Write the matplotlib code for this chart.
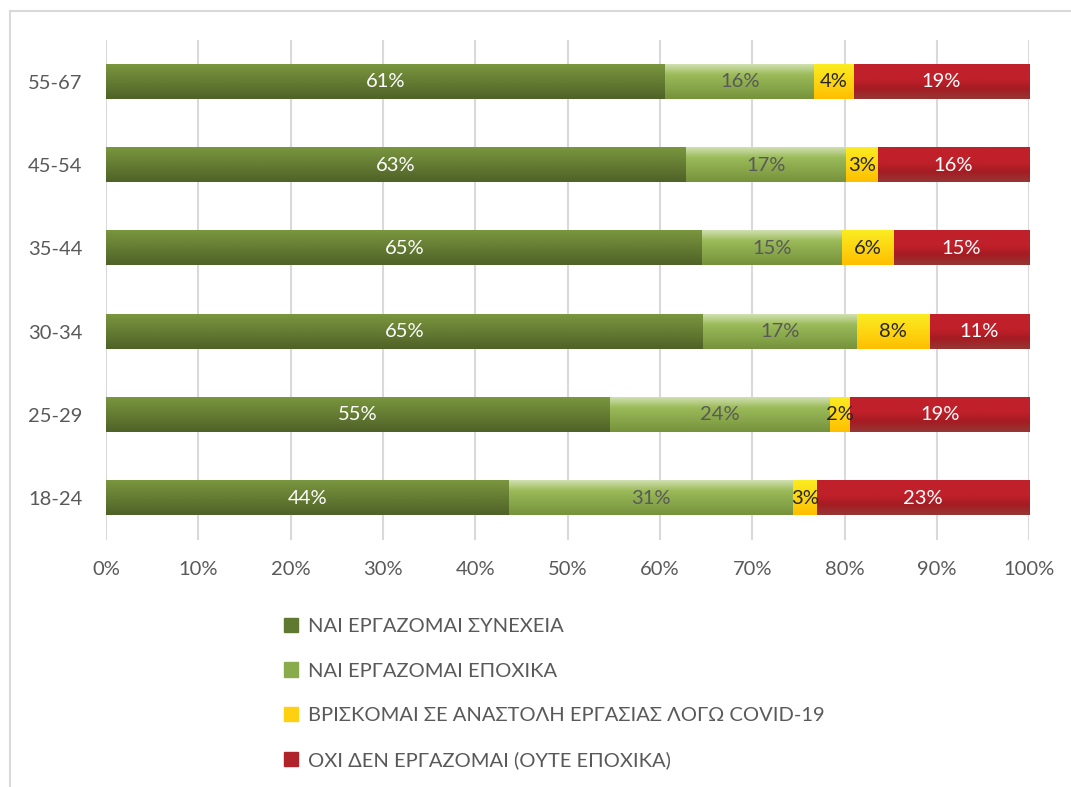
import numpy as np
import matplotlib.pyplot as plt
from matplotlib.colors import LinearSegmentedColormap
from matplotlib.patches import Rectangle
from matplotlib.lines import Line2D

plt.rcParams['font.family'] = ['Lato', 'Noto Sans', 'DejaVu Sans']

# ηλικιακές ομάδες (από κάτω προς τα πάνω)
ages = ['18-24', '25-29', '30-34', '35-44', '45-54', '55-67']
# ποσοστά ανά κατηγορία απάντησης
synexeia = [43.6, 54.6, 64.7, 64.6, 62.8, 60.6]
epoxika = [30.8, 23.8, 16.6, 15.1, 17.4, 16.1]
anastoli = [2.6, 2.2, 7.9, 5.6, 3.4, 4.3]
oxi = [23.0, 19.4, 10.8, 14.7, 16.4, 19.0]

series_names = ['ΝΑΙ ΕΡΓΑΖΟΜΑΙ ΣΥΝΕΧΕΙΑ', 'ΝΑΙ ΕΡΓΑΖΟΜΑΙ ΕΠΟΧΙΚΑ',
                'ΒΡΙΣΚΟΜΑΙ ΣΕ ΑΝΑΣΤΟΛΗ ΕΡΓΑΣΙΑΣ ΛΟΓΩ COVID-19',
                'ΟΧΙ ΔΕΝ ΕΡΓΑΖΟΜΑΙ (ΟΥΤΕ ΕΠΟΧΙΚΑ)']

# χρώματα διαβάθμισης (πάνω -> κάτω)
gradients = [
    [(0, '#4f6228'), (1, '#7a963e')],
    [(0, '#76923c'), (0.7, '#9bbb59'), (1, '#d0e0b0')],
    [(0, '#ffbf00'), (1, '#fbec22')],
    [(0, '#953735'), (0.3, '#a51c22'), (0.55, '#c0202a'), (1, '#c0202a')],
]
legend_colors = ['#5f7a30', '#8aab4c', '#ffd010', '#b0232a']
label_colors = ['white', '#595959', '#262626', 'white']
fs = 14.5

fig = plt.figure(figsize=(10.71, 7.87), dpi=100)
ax = fig.add_axes([0.099, 0.314, 0.862, 0.635])

grad = np.linspace(0, 1, 100).reshape(-1, 1)
left = np.zeros(len(ages))
for vals, g, lc in zip([synexeia, epoxika, anastoli, oxi], gradients, label_colors):
    vals = np.array(vals) / 100
    bars = ax.barh(ages, vals, left=left, height=0.41, color='none', edgecolor='none')
    cmap = LinearSegmentedColormap.from_list('g', g)
    for b in bars:
        x0, y0, w, h = b.get_x(), b.get_y(), b.get_width(), b.get_height()
        ax.imshow(grad, extent=(x0, x0 + w, y0 + h, y0), cmap=cmap, aspect='auto',
                  origin='upper', zorder=2, interpolation='bilinear')
    ax.bar_label(bars, labels=[f'{round(v * 100)}%' for v in vals], label_type='center',
                 color=lc, fontsize=fs, zorder=3)
    left = left + vals

ax.set_xlim(0, 1)
ax.set_ylim(-0.5, len(ages) - 0.5)
ax.set_xticks(np.arange(0, 1.01, 0.1))
ax.set_xticklabels([f'{int(t * 100)}%' for t in np.arange(0, 1.01, 0.1).round(1)])
ax.tick_params(axis='x', length=0, pad=15, labelsize=fs, labelcolor='#595959')
ax.tick_params(axis='y', length=0, pad=17, labelsize=fs, labelcolor='#595959')
ax.grid(axis='x', color='#d9d9d9', linewidth=1.5, zorder=0)
ax.set_axisbelow(True)
for s in ax.spines.values():
    s.set_visible(False)

handles = [Rectangle((0, 0), 1, 1, color=c) for c in legend_colors]
fig.legend(handles, series_names, loc='upper left', bbox_to_anchor=(0.258, 0.225),
           frameon=False, fontsize=fs, labelcolor='#595959', handlelength=0.7,
           handleheight=0.7, handletextpad=0.45, labelspacing=1.36, borderaxespad=0)

# περίγραμμα γραφήματος
fig.add_artist(Line2D([0.0089, 1.0], [1 - 10.5 / 787] * 2, color='#d9d9d9', lw=1.5))
fig.add_artist(Line2D([0.0089, 0.0089], [0, 1 - 10.5 / 787], color='#d9d9d9', lw=1.5))

fig.savefig('out.png', dpi=100)
